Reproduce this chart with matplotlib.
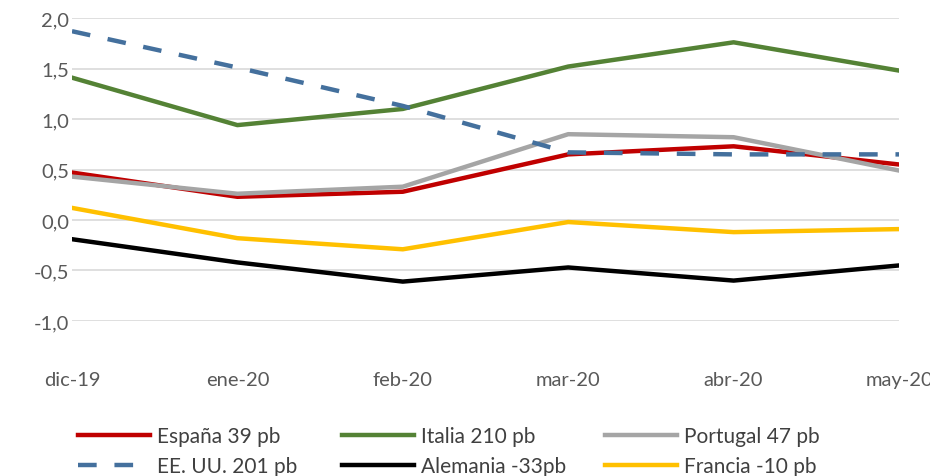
import matplotlib.pyplot as plt

months = ["dic-19", "ene-20", "feb-20", "mar-20", "abr-20", "may-20"]

espana = [0.47, 0.23, 0.28, 0.65, 0.73, 0.55]
italia = [1.41, 0.94, 1.10, 1.52, 1.76, 1.48]
portugal = [0.43, 0.26, 0.33, 0.85, 0.82, 0.49]
eeuu = [1.87, 1.51, 1.13, 0.67, 0.65, 0.65]
alemania = [-0.19, -0.42, -0.61, -0.47, -0.60, -0.45]
francia = [0.12, -0.18, -0.29, -0.02, -0.12, -0.09]

yticks = [-1.0, -0.5, 0.0, 0.5, 1.0, 1.5, 2.0]

plt.rcParams['font.family'] = ['Lato', 'DejaVu Sans']

fig = plt.figure(figsize=(9.3, 4.77), dpi=100)
ax = fig.add_axes([0.0774, 0.325, 0.8893, 0.635])

x = range(len(months))
lw = 3.2
l_es, = ax.plot(x, espana, color="#c00000", lw=lw, label="España 39 pb")
l_it, = ax.plot(x, italia, color="#548235", lw=lw, label="Italia 210 pb")
l_pt, = ax.plot(x, portugal, color="#a5a5a5", lw=lw, label="Portugal 47 pb")
l_us, = ax.plot(x, eeuu, color="#44709d", lw=lw, dashes=(4.2, 4.0),
                label="EE. UU. 201 pb")
l_de, = ax.plot(x, alemania, color="#000000", lw=lw, label="Alemania -33pb")
l_fr, = ax.plot(x, francia, color="#ffc000", lw=lw, label="Francia -10 pb")

ax.set_xlim(0, len(months) - 1)
ax.set_ylim(-1.0, 2.0)
ax.set_yticks(yticks)
ax.set_yticklabels([f"{v:.1f}".replace(".", ",") for v in yticks])
ax.set_xticks(list(x))
ax.set_xticklabels(months)
ax.grid(axis="y", color="#d9d9d9", lw=1.2)
ax.set_axisbelow(True)
for s in ax.spines.values():
    s.set_visible(False)
ax.tick_params(axis="both", length=0, labelsize=14.5, colors="#595959")
ax.tick_params(axis="x", pad=36)
ax.tick_params(axis="y", pad=2)

# one legend per column so each column sits at its own x
columns = [([l_es, l_us], 0.0839), ([l_it, l_de], 0.3677), ([l_pt, l_fr], 0.6505)]
for hs, x0 in columns:
    leg = fig.legend(handles=hs, labels=[h.get_label() for h in hs],
                     loc="center left", bbox_to_anchor=(x0, 0.0524),
                     frameon=False, fontsize=15, handlelength=3.45,
                     handletextpad=0.33, labelspacing=0.5, borderpad=0,
                     borderaxespad=0, labelcolor="#404040")

fig.savefig("out.png", dpi=100)
